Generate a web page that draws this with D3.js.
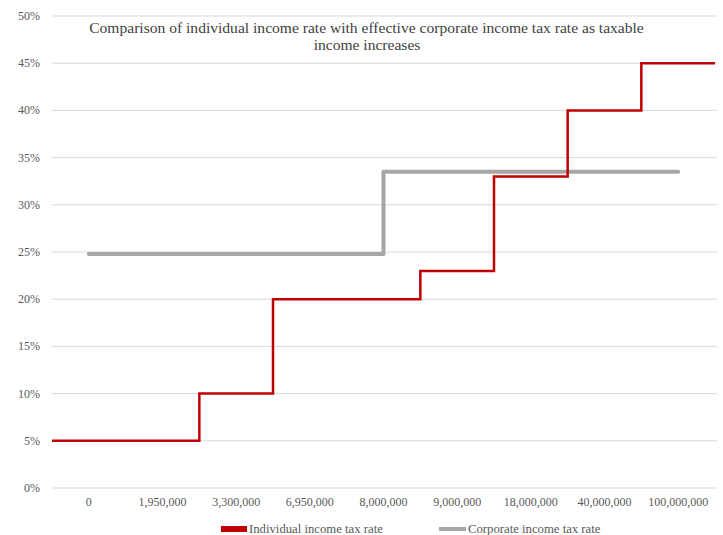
<!DOCTYPE html>
<html><head><meta charset="utf-8">
<script src="https://cdn.jsdelivr.net/npm/d3@7"></script>
<style>body{margin:0;background:#fff}svg{display:block}</style>
</head><body>
<svg id="c" width="723" height="535"></svg>
<script>
const categories = ["0","1,950,000","3,300,000","6,950,000","8,000,000","9,000,000","18,000,000","40,000,000","100,000,000"];
const individualRate = [0.05,0.05,0.10,0.20,0.20,0.23,0.33,0.40,0.45];
const corporateRate = [0.248,0.248,0.248,0.248,0.335,0.335,0.335,0.335,0.335];
const yTicks = [0,0.05,0.10,0.15,0.20,0.25,0.30,0.35,0.40,0.45,0.50];
const titleLines = ["Comparison of individual income rate with effective corporate income tax rate as taxable","income increases"];
const seriesNames = ["Individual income tax rate","Corporate income tax rate"];

const svg = d3.select("#c");
const font = '"Liberation Serif", "Times New Roman", serif';
const x = d3.scaleBand().domain(categories).range([52,715]);
const y = d3.scaleLinear().domain([0,0.5]).range([488,16]);

// gridlines
svg.append("g").selectAll("line").data(yTicks).join("line")
  .attr("x1",52).attr("x2",717).attr("y1",d=>y(d)).attr("y2",d=>y(d))
  .attr("stroke","#d9d9d9").attr("stroke-width",1);

// y axis labels
svg.append("g").selectAll("text").data(yTicks).join("text")
  .attr("x",40).attr("y",d=>y(d)+4).attr("text-anchor","end")
  .style("font-family",font).style("font-size","12px").attr("fill","#595959")
  .text(d=>d3.format(".0%")(d));

// x axis labels
svg.append("g").selectAll("text").data(categories).join("text")
  .attr("x",d=>x(d)+x.bandwidth()/2).attr("y",506).attr("text-anchor","middle")
  .style("font-family",font).style("font-size","12px").attr("fill","#595959")
  .text(d=>d);

// corporate line
const gpts = categories.map((c,i)=>[x(c)+x.bandwidth()/2, y(corporateRate[i])]);
svg.append("path").attr("d",d3.line().curve(d3.curveStepAfter)(gpts))
  .attr("fill","none").attr("stroke","#a6a6a6").attr("stroke-width",4)
  .attr("stroke-linecap","round").attr("stroke-linejoin","round");

// individual line
const rpts = categories.map((c,i)=>[x(c), y(individualRate[i])]);
rpts.push([x.range()[1], y(individualRate[individualRate.length-1])]);
svg.append("path").attr("d",d3.line().curve(d3.curveStepAfter)(rpts))
  .attr("fill","none").attr("stroke","#c00000").attr("stroke-width",2.5);

// title
const t = svg.append("g");
const tl1 = t.append("text").attr("x",366.5).attr("y",33).attr("text-anchor","middle")
  .style("font-family",font).style("font-size","15px").attr("fill","#404040").text(titleLines[0]);
const fs = 15*555/tl1.node().getComputedTextLength();
tl1.style("font-size",fs+"px");
t.append("text").attr("x",367).attr("y",50).attr("text-anchor","middle")
  .style("font-family",font).style("font-size",fs+"px").attr("fill","#404040").text(titleLines[1]);

// legend
svg.append("rect").attr("x",221).attr("y",526).attr("width",26).attr("height",6).attr("fill","#c00000");
const lg1 = svg.append("text").attr("x",249).attr("y",533).style("font-family",font).style("font-size","12px")
  .attr("fill","#595959").text(seriesNames[0]);
const lfs = 12*134/lg1.node().getComputedTextLength();
lg1.style("font-size",lfs+"px");
svg.append("line").attr("x1",439).attr("x2",466).attr("y1",529).attr("y2",529)
  .attr("stroke","#a6a6a6").attr("stroke-width",4);
svg.append("text").attr("x",468).attr("y",533).style("font-family",font).style("font-size",lfs+"px")
  .attr("fill","#595959").text(seriesNames[1]);
</script>
</body></html>
